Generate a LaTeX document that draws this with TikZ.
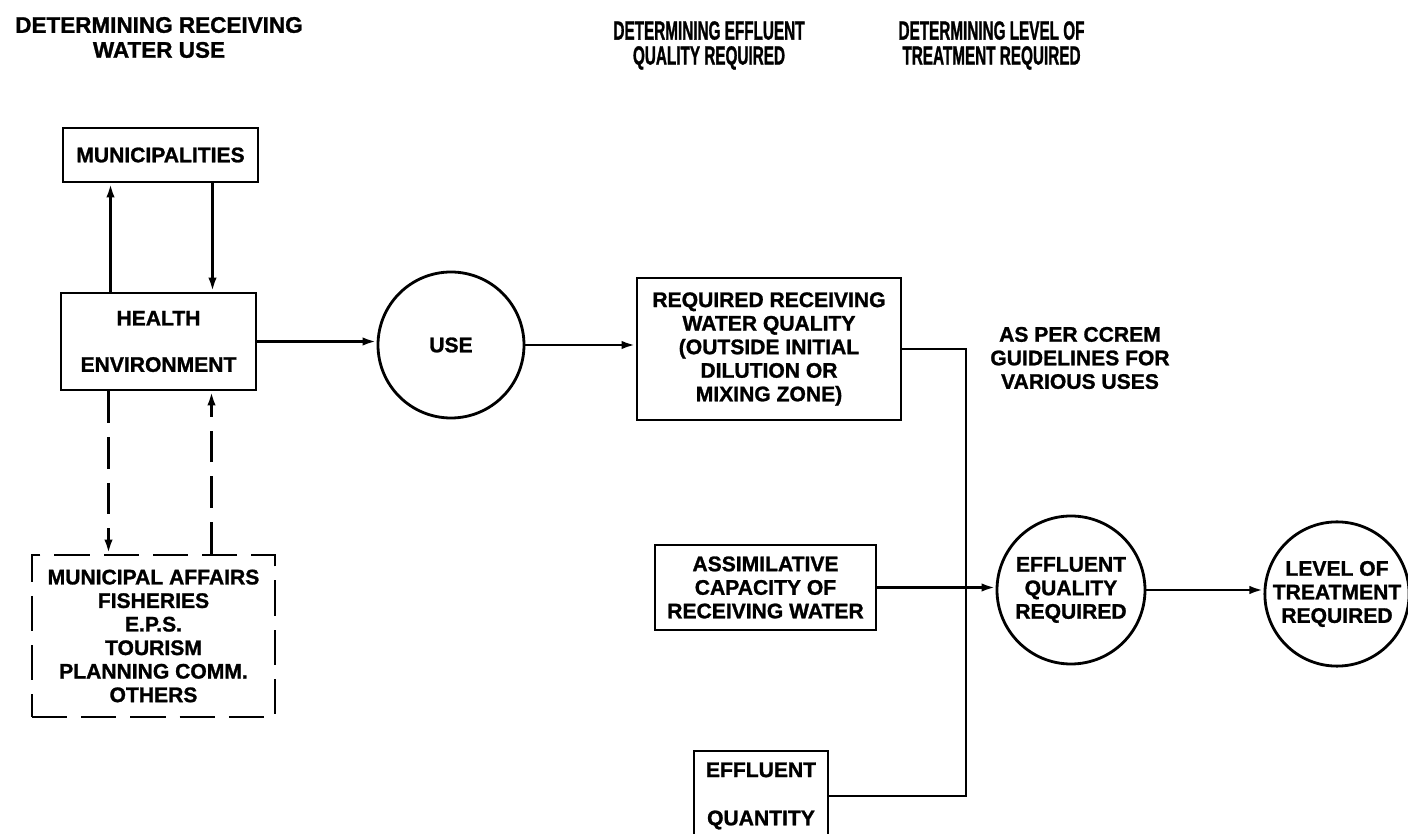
\documentclass[tikz,border=0pt]{standalone}
\usepackage{fontspec}
\setmainfont[BoldFeatures={FakeBold=1.2}]{Liberation Sans}
\newfontfamily\condfont[FakeStretch=0.58, BoldFeatures={FakeBold=1}]{Liberation Sans}
\usetikzlibrary{arrows.meta,positioning,calc}
\begin{document}
\begin{tikzpicture}[
  font=\bfseries\fontsize{6}{6.7}\selectfont,
  line width=0.8pt,
  box/.style={draw, align=center, inner sep=2pt},
  dbox/.style={box, dash pattern=on 10pt off 4pt},
  blob/.style={draw, circle, align=center, inner sep=0pt},
  head/.style={align=center, font=\condfont\bfseries\fontsize{7.5}{7.1}\selectfont},
  ar/.style={-{Latex[length=4pt,width=2.4pt]}},
  dr/.style={ar, dash pattern=on 9pt off 4pt}
]
\useasboundingbox (0,0) rectangle (14.08,8.34);
\clip (0,0) rectangle (14.08,8.34);
% ---- headings ---------------------------------------------------------------
\node[align=center, font=\bfseries\fontsize{6.4}{7.1}\selectfont] (headuse) at (1.59, 7.965)
  {DETERMINING RECEIVING\\WATER USE};
\node[head] (headeff) at (7.09, 7.885) {DETERMINING EFFLUENT\\QUALITY REQUIRED};
\node[head] (headlvl) at (9.915, 7.885) {DETERMINING LEVEL OF\\TREATMENT REQUIRED};

% ---- nodes ------------------------------------------------------------------
\node[box, minimum width=1.95cm, minimum height=0.54cm] (muni) at (1.605, 6.79) {MUNICIPALITIES};
\node[box, minimum width=1.95cm, minimum height=0.97cm] (health) at (1.585, 4.925)
  {HEALTH\\[6.5pt]ENVIRONMENT};
\node[dbox, minimum width=2.43cm, minimum height=1.62cm] (others) at (1.535, 1.98)
  {MUNICIPAL AFFAIRS\\FISHERIES\\E.P.S.\\TOURISM\\PLANNING COMM.\\OTHERS};

\node[blob, minimum size=1.46cm] (use) at (4.51, 4.89) {USE};
\node[box, minimum width=2.64cm, minimum height=1.42cm] (req) at (7.69, 4.85)
  {REQUIRED RECEIVING\\WATER QUALITY\\(OUTSIDE INITIAL\\DILUTION OR\\MIXING ZONE)};
\node[align=center] (ccrem) at (10.8, 4.76) {AS PER CCREM\\GUIDELINES FOR\\VARIOUS USES};

\node[box, minimum width=2.21cm, minimum height=0.85cm] (assim) at (7.655, 2.465)
  {ASSIMILATIVE\\CAPACITY OF\\RECEIVING WATER};
\node[box, minimum width=1.34cm, minimum height=0.90cm] (effq) at (7.61, 0.38)
  {EFFLUENT\\[7pt]QUANTITY};
\node[blob, minimum size=1.48cm] (eq) at (10.71, 2.44) {EFFLUENT\\QUALITY\\REQUIRED};
\node[blob, minimum size=1.44cm] (lvl) at (13.37, 2.40) {LEVEL OF\\TREATMENT\\REQUIRED};
\coordinate (bus) at (9.66, 2.45);

% ---- edges ------------------------------------------------------------------
\draw[ar] ([xshift=-4.8mm]health.north) -- ([xshift=-4.8mm]health.north |- muni.south);
\draw[ar] ([xshift=5.4mm]health.north |- muni.south) -- ([xshift=5.4mm]health.north);
\draw[dr] ([xshift=-5mm]health.south) -- ([xshift=-5mm]health.south |- others.north);
\draw[dr] ([xshift=5.3mm]health.south |- others.north) -- ([xshift=5.3mm]health.south);
\draw[ar] (health.east) -- (health.east -| use.west);
\draw[ar] (use.east) -- (use.east -| req.west);
\draw (req.east) -| (bus) |- (effq.east);
\draw[ar] (assim.east) -- (assim.east -| eq.west);
\draw[ar] (eq.east) -- (eq.east -| lvl.west);
\end{tikzpicture}
\end{document}
